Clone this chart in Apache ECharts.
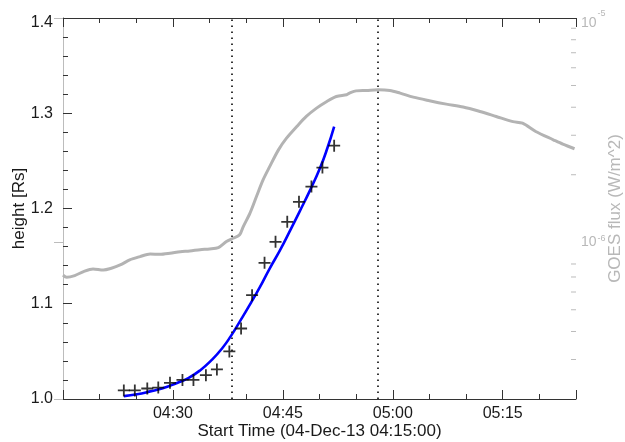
<!DOCTYPE html>
<html>
<head>
<meta charset="utf-8">
<script src="https://cdn.jsdelivr.net/npm/echarts@6/dist/echarts.min.js"></script>
<style>
  html, body { margin: 0; padding: 0; background: #fff; }
  #chart { width: 625px; height: 442px; }
</style>
</head>
<body>
<div id="chart"></div>
<script>
// Times are minutes after 04:15:00 UT on 04-Dec-2013.
const startHour = 4;
const startMinute = 15;
const xAxisTitle = 'Start Time (04-Dec-13 04:15:00)';
const leftAxisTitle = 'height [Rs]';
const rightAxisTitle = 'GOES flux (W/m^2)';

// Measured leading-edge heights (plus markers)
const heightTimes = [8.3, 9.8, 11.5, 13.0, 14.6, 16.3, 17.8, 19.5, 21.0, 22.7, 24.3, 25.8, 27.5, 29.0, 30.6, 32.2, 33.9, 35.4, 37.0];
const heightValues = [1.009, 1.009, 1.011, 1.012, 1.017, 1.020, 1.020, 1.025, 1.031, 1.050, 1.074, 1.109, 1.143, 1.165, 1.186, 1.207, 1.223, 1.243, 1.266];

// Fitted height curve (blue)
const fitTimes = [8.3, 10.1, 11.9, 13.5, 15.3, 17.1, 18.7, 20.3, 21.7, 22.9, 24.1, 25.5, 26.9, 28.2, 29.6, 31.0, 32.3, 33.7, 35.1, 36.1, 37.0];
const fitValues = [1.003, 1.005, 1.008, 1.011, 1.016, 1.022, 1.030, 1.041, 1.053, 1.066, 1.081, 1.099, 1.118, 1.137, 1.156, 1.177, 1.197, 1.219, 1.243, 1.264, 1.286];

// GOES X-ray flux (W/m^2)
const goesTimes = [0.0, 0.5, 1.6, 2.8, 4.1, 5.5, 6.6, 7.8, 9.1, 10.5, 11.9, 13.2, 14.6, 16.0, 17.3, 18.7, 20.0, 21.2, 22.3, 23.2, 24.1, 24.6, 25.5, 26.4, 27.3, 28.2, 29.4, 30.5, 31.9, 33.2, 34.6, 36.0, 37.3, 38.7, 39.1, 40.0, 41.4, 43.0, 44.6, 46.0, 47.8, 50.0, 52.3, 54.6, 56.9, 59.1, 61.4, 62.7, 64.5, 66.9, 68.2, 69.8];
const goesFlux = [7.14e-7, 6.98e-7, 7.10e-7, 7.40e-7, 7.60e-7, 7.52e-7, 7.66e-7, 7.92e-7, 8.34e-7, 8.63e-7, 8.87e-7, 8.83e-7, 8.93e-7, 9.08e-7, 9.14e-7, 9.27e-7, 9.33e-7, 9.46e-7, 1.007e-6, 1.042e-6, 1.079e-6, 1.175e-6, 1.346e-6, 1.600e-6, 1.897e-6, 2.173e-6, 2.582e-6, 2.911e-6, 3.281e-6, 3.639e-6, 3.963e-6, 4.246e-6, 4.467e-6, 4.550e-6, 4.624e-6, 4.732e-6, 4.753e-6, 4.786e-6, 4.753e-6, 4.624e-6, 4.436e-6, 4.276e-6, 4.130e-6, 4.009e-6, 3.828e-6, 3.639e-6, 3.451e-6, 3.396e-6, 3.119e-6, 2.864e-6, 2.738e-6, 2.612e-6];

// Vertical dotted markers (04:38 and 04:58)
const markerTimes = [23, 43];

// Axis ranges and ticks
const timeRange = [0, 70];
const heightRange = [1.0, 1.4];
const fluxRange = [2e-7, 1e-5];
const fluxMinorTicks = [2e-6, 3e-6, 4e-6, 5e-6, 6e-6, 7e-6, 8e-6, 9e-6, 3e-7, 4e-7, 5e-7, 6e-7, 7e-7, 8e-7];

const FONT = 'Liberation Sans, Arial, Helvetica, sans-serif';
const INK = '#1a1a1a';
const GREY_AXIS = '#bcbcbc';
const GREY_TEXT = '#b8b8b8';

function timeLabel(v) {
  if (v <= timeRange[0] || v >= timeRange[1] || v % 15 !== 0) return '';
  const total = startHour * 60 + startMinute + v;
  const h = Math.floor(total / 60), m = total % 60;
  return String(h).padStart(2, '0') + ':' + String(m).padStart(2, '0');
}

function zip(a, b) { return a.map((v, i) => [v, b[i]]); }

const baseX = {
  type: 'value', min: timeRange[0], max: timeRange[1],
  splitLine: { show: false },
  axisLine: { show: true, lineStyle: { color: '#333', width: 1 } }
};

const chart = echarts.init(document.getElementById('chart'), null, { renderer: 'canvas' });

chart.setOption({
  animation: false,
  backgroundColor: '#fff',
  textStyle: { fontFamily: FONT },
  grid: { left: 63, right: 49, top: 18, bottom: 43, containLabel: false, outerBoundsMode: 'none' },
  xAxis: [
    Object.assign({}, baseX, {
      position: 'bottom', interval: 15,
      axisTick: { show: true, inside: true, length: 9, lineStyle: { color: '#333' } },
      axisLabel: { show: true, formatter: timeLabel, color: INK, fontSize: 16, fontFamily: FONT, margin: 7 },
      name: xAxisTitle, nameLocation: 'middle', nameGap: 24, nameMoveOverlap: false,
      nameTextStyle: { color: INK, fontSize: 17, fontFamily: FONT }
    }),
    Object.assign({}, baseX, {
      position: 'bottom', interval: 5, offset: 0,
      axisLine: { show: false },
      axisTick: { show: true, inside: true, length: 5, lineStyle: { color: '#333' } },
      axisLabel: { show: false }
    }),
    Object.assign({}, baseX, {
      position: 'top', interval: 15, offset: 0,
      axisTick: { show: true, inside: true, length: 9, lineStyle: { color: '#333' } },
      axisLabel: { show: false }
    }),
    Object.assign({}, baseX, {
      position: 'top', interval: 5, offset: 0,
      axisLine: { show: false },
      axisTick: { show: true, inside: true, length: 5, lineStyle: { color: '#333' } },
      axisLabel: { show: false }
    })
  ],
  yAxis: [
    {
      type: 'value', position: 'left', min: heightRange[0], max: heightRange[1], interval: 0.1,
      splitLine: { show: false },
      axisLine: { show: true, lineStyle: { color: '#333', width: 1 } },
      axisTick: { show: true, inside: true, length: 9, lineStyle: { color: '#333' } },
      minorTick: { show: true, splitNumber: 5, length: 5, lineStyle: { color: '#333' } },
      axisLabel: {
        color: INK, fontSize: 16, fontFamily: FONT, margin: 10,
        formatter: v => Math.abs(v - heightRange[1]) < 1e-9 ? '{top|' + v.toFixed(1) + '}' : v.toFixed(1),
        rich: { top: { fontSize: 16, fontFamily: FONT, color: INK, padding: [10, 0, 0, 0] } }
      },
      name: leftAxisTitle, nameLocation: 'middle', nameGap: 35, nameRotate: 90, nameMoveOverlap: false,
      nameTextStyle: { color: INK, fontSize: 17, fontFamily: FONT }
    },
    {
      type: 'log', logBase: 10, position: 'right', min: fluxRange[0], max: fluxRange[1],
      splitLine: { show: false },
      axisLine: { show: true, lineStyle: { color: GREY_AXIS, width: 1 } },
      axisTick: { show: true, inside: true, length: 9, lineStyle: { color: GREY_AXIS } },
      minorTick: { show: false },
      axisLabel: {
        margin: 5, color: GREY_TEXT,
        formatter: function (v) {
          const lg = Math.log10(v);
          const e = Math.round(lg);
          if (Math.abs(lg - e) > 1e-6) return '';
          return e === -5 ? '{bt|10}{st|' + e + '}' : '{b|10}{s|' + e + '}';
        },
        rich: {
          b: { fontSize: 14, fontFamily: FONT, color: GREY_TEXT },
          s: { fontSize: 9, fontFamily: FONT, color: GREY_TEXT, padding: [0, 0, 8, 1] },
          bt: { fontSize: 14, fontFamily: FONT, color: GREY_TEXT, padding: [10, 0, 0, 0] },
          st: { fontSize: 9, fontFamily: FONT, color: GREY_TEXT, padding: [0, 0, 8, 1] }
        }
      },
      name: rightAxisTitle, nameLocation: 'middle', nameGap: 31, nameRotate: 90, nameMoveOverlap: false,
      nameTextStyle: { color: GREY_TEXT, fontSize: 17, fontFamily: FONT }
    }
  ],
  series: [
    {
      name: 'GOES', type: 'line', xAxisIndex: 0, yAxisIndex: 1,
      data: zip(goesTimes, goesFlux),
      showSymbol: false, smooth: 0.3, z: 2,
      lineStyle: { color: '#b3b3b3', width: 3 }
    },
    {
      name: 'flux minor ticks', type: 'custom', xAxisIndex: 0, yAxisIndex: 1,
      silent: true, clip: false, z: 3,
      data: fluxMinorTicks.map(v => [timeRange[1], v]),
      renderItem: function (params, api) {
        const p = api.coord([api.value(0), api.value(1)]);
        return {
          type: 'line',
          shape: { x1: p[0] - 5, y1: p[1], x2: p[0], y2: p[1] },
          style: { stroke: GREY_AXIS, lineWidth: 1 }
        };
      }
    },
    {
      name: 'fit', type: 'line', xAxisIndex: 0, yAxisIndex: 0,
      data: zip(fitTimes, fitValues),
      showSymbol: false, smooth: 0.5, z: 4,
      lineStyle: { color: '#0000ff', width: 2.6 }
    },
    {
      name: 'height', type: 'scatter', xAxisIndex: 0, yAxisIndex: 0,
      data: zip(heightTimes, heightValues),
      symbol: 'path://M4.25,0H5.75V4.25H10V5.75H5.75V10H4.25V5.75H0V4.25H4.25Z',
      symbolSize: 12, z: 5,
      itemStyle: { color: '#000' },
      markLine: {
        silent: true, symbol: 'none', label: { show: false },
        lineStyle: { color: '#222', type: [1.6, 4.4], width: 1.8 },
        data: markerTimes.map(t => ({ xAxis: t }))
      }
    }
  ]
});
</script>
</body>
</html>
